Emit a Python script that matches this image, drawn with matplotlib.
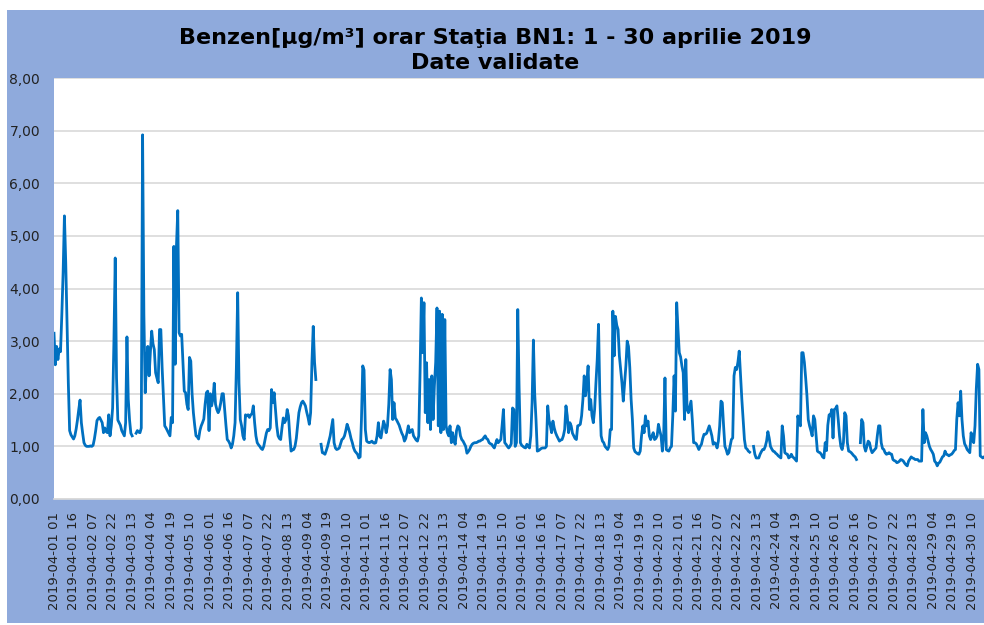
#!/usr/bin/env python3
"""
plot.py -- hourly benzene at station BN1, 1-30 April 2019 (validated data).
Values read off the Excel screenshot, one list per day (24 h, first = hour 01).
nan = missing hour. The right edge of the source picture is cropped, so the
series stops a few hours before the end of the month.
"""
import matplotlib
matplotlib.use("Agg")
import matplotlib.pyplot as plt
from matplotlib.patches import Rectangle
from matplotlib.ticker import FuncFormatter, MultipleLocator
import numpy as np
import pandas as pd

nan = float("nan")

TITLE = "Benzen[µg/m³] orar Staţia BN1: 1 - 30 aprilie 2019\nDate validate"
START = "2019-04-01 01:00"

# ---- hourly values, µg/m³ ----
apr01 = [3.15, 2.55, 2.9, 2.65, 2.85, 2.8, 3.5, 4.3, 5.38, 4.5, 3.3, 2.2,
         1.3, 1.22, 1.18, 1.14, 1.2, 1.33, 1.5, 1.7, 1.88, 1.45, 1.25, 1.07]
apr02 = [1.02, 1.0, 1.0, 1.0, 1.01, 1.0, 1.02, 1.14, 1.3, 1.49, 1.53, 1.55,
         1.5, 1.45, 1.26, 1.35, 1.28, 1.26, 1.6, 1.2, 1.4, 1.73, 3.0, 4.58]
apr03 = [2.3, 1.5, 1.45, 1.4, 1.3, 1.25, 1.2, 1.45, 3.08, 1.9, 1.5, 1.25,
         1.2, nan, nan, 1.25, 1.3, 1.27, 1.26, 1.35, 6.92, 3.5, 2.02, 2.6]
apr04 = [2.9, 2.34, 2.8, 3.19, 2.95, 2.84, 2.4, 2.3, 2.21, 3.22, 3.22, 2.5,
         1.96, 1.39, 1.35, 1.3, 1.25, 1.2, 1.55, 1.45, 4.8, 2.56, 4.8, 5.48]
apr05 = [3.16, 3.1, 3.13, 2.6, 2.05, 2.02, 1.8, 1.7, 2.69, 2.62, 2.0, 1.64,
         1.4, 1.2, 1.18, 1.14, 1.3, 1.39, 1.45, 1.52, 1.8, 2.02, 2.05, 1.3]
apr06 = [2.0, 1.77, 1.9, 2.2, 1.8, 1.7, 1.64, 1.7, 1.83, 2.0, 2.0, 1.7,
         1.4, 1.13, 1.1, 1.05, 0.97, 1.04, 1.2, 1.45, 2.5, 3.92, 2.2, 1.51]
apr07 = [1.39, 1.2, 1.13, 1.6, 1.58, 1.6, 1.55, 1.6, 1.62, 1.77, 1.45, 1.2,
         1.07, 1.03, 1.0, 0.96, 0.94, 1.0, 1.13, 1.25, 1.32, 1.3, 1.35, 2.08]
apr08 = [1.83, 2.02, 1.7, 1.39, 1.2, 1.15, 1.13, 1.35, 1.54, 1.45, 1.5, 1.7,
         1.58, 1.2, 0.91, 0.93, 0.94, 1.0, 1.15, 1.39, 1.64, 1.75, 1.83, 1.86]
apr09 = [1.82, 1.77, 1.65, 1.55, 1.42, 1.64, 2.6, 3.28, 2.6, 2.27, nan, nan,
         nan, 1.04, 0.88, 0.87, 0.85, 0.92, 1.0, 1.1, 1.2, 1.35, 1.51, 1.07]
apr10 = [0.97, 0.94, 0.95, 0.97, 1.05, 1.13, 1.15, 1.2, 1.3, 1.42, 1.35, 1.26,
         1.15, 1.07, 0.97, 0.91, 0.88, 0.85, 0.78, 0.8, 1.5, 2.53, 2.45, 1.32]
apr11 = [1.1, 1.08, 1.07, 1.08, 1.1, 1.07, 1.06, 1.07, 1.2, 1.45, 1.2, 1.16,
         1.32, 1.48, 1.4, 1.26, 1.39, 1.8, 2.46, 2.27, 1.51, 1.83, 1.54, 1.5]
apr12 = [1.45, 1.4, 1.32, 1.25, 1.2, 1.1, 1.15, 1.26, 1.39, 1.26, 1.3, 1.32,
         1.2, 1.16, 1.12, 1.1, 1.2, 2.4, 3.82, 2.78, 3.73, 1.64, 2.59, 1.45]
apr13 = [2.27, 1.32, 2.34, 1.51, 2.15, 2.6, 3.63, 1.39, 3.57, 1.26, 3.51, 1.32,
         3.41, 1.39, 1.26, 1.2, 1.39, 1.07, 1.26, 1.1, 1.04, 1.3, 1.39, 1.36]
apr14 = [1.2, 1.13, 1.1, 1.05, 1.0, 0.87, 0.9, 0.94, 1.0, 1.04, 1.06, 1.07,
         1.07, 1.08, 1.1, 1.1, 1.12, 1.13, 1.17, 1.2, 1.15, 1.13, 1.07, 1.05]
apr15 = [1.04, 1.0, 0.97, 1.05, 1.13, 1.07, 1.1, 1.13, 1.4, 1.7, 1.07, 1.04,
         1.0, 0.97, 1.0, 1.05, 1.73, 1.7, 1.0, 1.07, 3.6, 2.15, 1.07, 1.02]
apr16 = [1.0, 0.98, 0.97, 1.04, 1.0, 0.97, 1.2, 1.83, 3.02, 2.0, 1.51, 0.91,
         0.92, 0.94, 0.96, 0.97, 0.97, 0.97, 1.0, 1.77, 1.5, 1.39, 1.26, 1.48]
apr17 = [1.35, 1.26, 1.2, 1.15, 1.1, 1.12, 1.13, 1.2, 1.32, 1.77, 1.58, 1.26,
         1.45, 1.39, 1.25, 1.2, 1.15, 1.13, 1.39, 1.4, 1.42, 1.58, 1.89, 2.34]
apr18 = [1.96, 2.2, 2.53, 1.7, 1.89, 1.58, 1.45, 1.7, 2.2, 2.65, 3.32, 1.96,
         1.2, 1.1, 1.07, 1.0, 0.97, 0.94, 1.0, 1.32, 1.32, 3.57, 2.72, 3.47]
apr19 = [3.3, 3.22, 2.72, 2.46, 2.2, 1.86, 2.2, 2.53, 3.0, 2.9, 2.5, 1.9,
         1.51, 0.97, 0.9, 0.88, 0.86, 0.85, 0.91, 1.2, 1.39, 1.26, 1.58, 1.39]
apr20 = [1.48, 1.2, 1.13, 1.2, 1.26, 1.13, 1.15, 1.2, 1.42, 1.3, 1.2, 0.91,
         1.2, 2.3, 0.94, 0.92, 0.91, 0.97, 1.0, 1.58, 2.34, 1.67, 3.73, 3.22]
apr21 = [2.78, 2.7, 2.53, 2.4, 1.51, 2.65, 1.7, 1.64, 1.75, 1.86, 1.5, 1.07,
         1.07, 1.05, 1.0, 0.94, 1.0, 1.04, 1.15, 1.23, 1.23, 1.25, 1.32, 1.39]
apr22 = [1.3, 1.2, 1.04, 1.07, 1.05, 0.97, 1.1, 1.39, 1.86, 1.83, 1.39, 1.0,
         0.94, 0.85, 0.88, 1.0, 1.13, 1.16, 2.34, 2.5, 2.46, 2.6, 2.81, 2.34]
apr23 = [1.9, 1.5, 1.13, 0.97, 0.95, 0.91, 0.89, nan, nan, 1.0, 0.85, 0.78,
         0.78, 0.78, 0.85, 0.9, 0.94, 0.94, 1.0, 1.1, 1.28, 1.16, 1.0, 0.95]
apr24 = [0.91, 0.9, 0.87, 0.85, 0.82, 0.8, 0.78, 1.39, 1.2, 0.88, 0.86, 0.85,
         0.78, 0.8, 0.85, 0.8, 0.78, 0.75, 0.72, 1.58, 1.45, 1.39, 2.78, 2.78]
apr25 = [2.6, 2.3, 1.96, 1.51, 1.39, 1.3, 1.2, 1.58, 1.51, 1.2, 0.91, 0.89,
         0.88, 0.85, 0.8, 0.78, 1.07, 0.92, 1.4, 1.6, 1.58, 1.7, 1.16, 1.7]
apr26 = [1.72, 1.77, 1.51, 1.2, 1.0, 0.94, 1.07, 1.64, 1.58, 1.07, 0.91, 0.9,
         0.88, 0.85, 0.82, 0.8, 0.75, nan, nan, 1.07, 1.51, 1.45, 1.0, 0.91]
apr27 = [1.0, 1.1, 1.07, 0.95, 0.88, 0.91, 0.94, 0.97, 1.2, 1.39, 1.39, 1.07,
         0.96, 0.94, 0.88, 0.85, 0.86, 0.88, 0.86, 0.85, 0.75, 0.73, 0.72, 0.69]
apr28 = [0.7, 0.72, 0.75, 0.74, 0.72, 0.68, 0.65, 0.63, 0.72, 0.76, 0.8, 0.78,
         0.77, 0.75, 0.75, 0.75, 0.72, 0.72, 0.72, 1.7, 1.07, 1.26, 1.2, 1.1]
apr29 = [1.0, 0.94, 0.9, 0.85, 0.72, 0.69, 0.63, 0.68, 0.7, 0.75, 0.8, 0.82,
         0.91, 0.85, 0.84, 0.82, 0.84, 0.85, 0.88, 0.92, 0.94, 1.51, 1.83, 1.58]
apr30 = [2.05, 1.51, 1.2, 1.05, 1.0, 0.94, 0.91, 0.88, 1.26, 1.13, 1.07, 1.39,
         2.1, 2.56, 2.46, 0.82, 0.8, 0.78, 0.8, 0.82, 0.82]

DAYS = [apr01, apr02, apr03, apr04, apr05, apr06, apr07, apr08, apr09, apr10,
        apr11, apr12, apr13, apr14, apr15, apr16, apr17, apr18, apr19, apr20,
        apr21, apr22, apr23, apr24, apr25, apr26, apr27, apr28, apr29, apr30]
benzen = np.array([v for d in DAYS for v in d])
stamps = pd.date_range(START, periods=len(benzen), freq="h")
tick_idx = np.arange(0, len(benzen), 15)          # Excel shows every 15th hour
tick_lbl = [stamps[i].strftime("%Y-%m-%d %H") for i in tick_idx]

# ---- style ----
BG = "#8FAADC"
LINE = "#0070C0"
GRID = "#D9D9D9"
W, H = 984, 625

fig = plt.figure(figsize=(W / 100, H / 100), dpi=100, facecolor="white")
fig.patches.append(Rectangle((7 / W, 2 / H), 1 - 7 / W, 1 - 12 / H,
                             transform=fig.transFigure, facecolor=BG,
                             edgecolor="none", zorder=-5))
# plot area: left edge at x=54 px, 0,00 at y=499 px, 8,00 at y=78 px
ax = fig.add_axes([54 / W, 1 - 499 / H, 1 - 54 / W, 421 / H])
ax.set_zorder(2)
ax.set_facecolor("white")
ax.plot(np.arange(len(benzen)), benzen, color=LINE, lw=2.0,
        solid_joinstyle="round")

ax.set_xlim(0, (W - 54) / 1.3027)                  # source picture cut at right
ax.set_ylim(0, 8)
ax.yaxis.set_major_locator(MultipleLocator(1))
ax.yaxis.set_major_formatter(FuncFormatter(lambda v, p: f"{v:.2f}".replace(".", ",")))
ax.set_xticks(tick_idx)
ax.set_xticklabels(tick_lbl, rotation=90)
ax.tick_params(axis="x", length=0, pad=9, labelsize=9.5, labelcolor="#222222")
ax.tick_params(axis="y", length=0, pad=10, labelsize=10, labelcolor="#222222")
ax.grid(axis="y", color=GRID, lw=1.2)
ax.set_axisbelow(True)
for s in ("top", "right", "left"):
    ax.spines[s].set_visible(False)
ax.spines["bottom"].set_color(GRID)
ax.spines["bottom"].set_linewidth(1.2)

fig.text(0.503, 1 - 50.5 / H, TITLE, ha="center", va="center", fontsize=16,
         fontweight="bold", linespacing=1.3, zorder=3)

fig.savefig("out.png", dpi=100, facecolor=fig.get_facecolor())
